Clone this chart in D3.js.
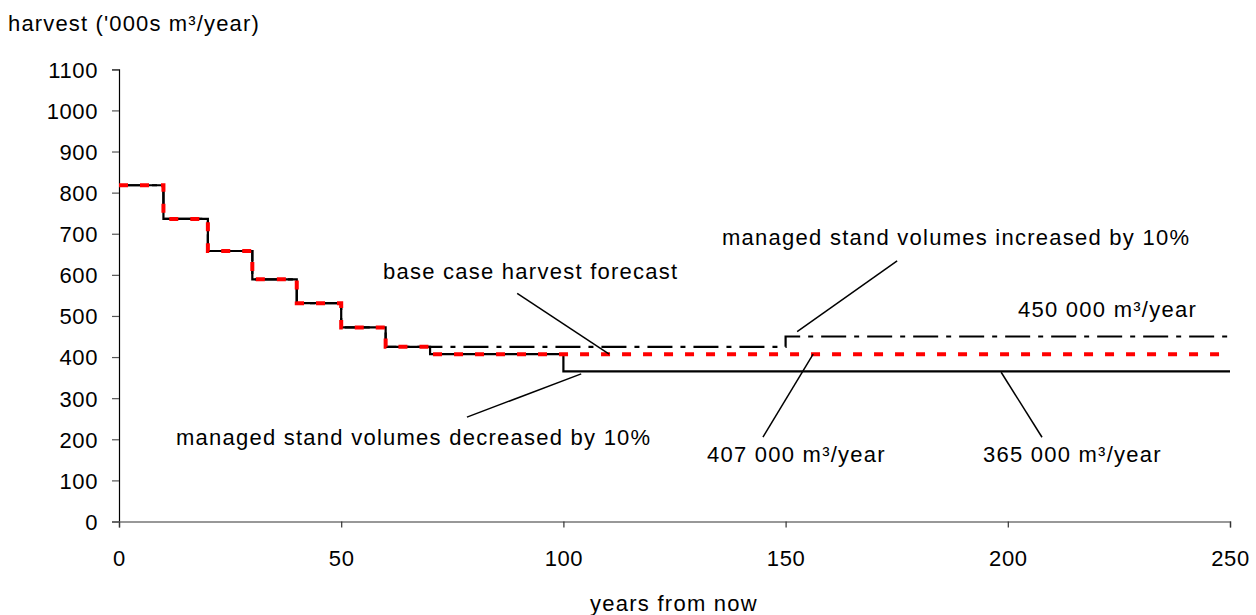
<!DOCTYPE html>
<html>
<head>
<meta charset="utf-8">
<script src="https://cdn.jsdelivr.net/npm/d3@7"></script>
<style>
  html, body { margin: 0; padding: 0; background: #fff; }
  svg { display: block; }
  text { font-family: "Liberation Sans", Arial, sans-serif; fill: #000; }
</style>
</head>
<body>
<svg id="chart" width="1256" height="615"></svg>
<script>
// ---- data ----
const stepYears      = [0, 10, 20, 30, 40, 50, 60, 70, 100, 150, 250];
const baseCase       = [818, 736, 658, 589, 531, 472, 425, 407, 407, 407, 407];
const increased10    = [818, 736, 658, 589, 531, 472, 425, 425, 425, 450, 450];
const decreased10    = [818, 736, 658, 589, 531, 472, 425, 407, 365, 365, 365];
const yTicks         = [0, 100, 200, 300, 400, 500, 600, 700, 800, 900, 1000, 1100];
const xTicks         = [0, 50, 100, 150, 200, 250];
const annotationText = [
  "base case harvest forecast",
  "managed stand volumes increased by 10%",
  "450 000 m³/year",
  "managed stand volumes decreased by 10%",
  "407 000 m³/year",
  "365 000 m³/year"
];
// label anchors (years, '000s m3) and leader lines in data units
const annotationAt   = [[59.4, 590], [135.7, 673], [202.3, 497], [12.8, 187], [132.3, 144], [194.4, 144]];
const leaderLines    = [
  [[89.6, 555], [110.3, 407]],
  [[175.1, 634], [152.6, 462]],
  [[104.0, 359], [78.3, 254]],
  [[156.2, 407], [144.9, 205]],
  [[198.5, 363], [207.7, 205]]
];

const svg = d3.select("#chart");
const x = d3.scaleLinear().domain([0, 250]).range([119, 1230]);
const y = d3.scaleLinear().domain([0, 1100]).range([521.5, 69.3]);

const FS = 22, LS = 1.25;

// axes
const yAxis = svg.append("g").attr("transform", `translate(${x(0)},0)`)
  .call(d3.axisLeft(y).tickValues(yTicks).tickSize(7).tickPadding(14).tickFormat(d3.format("d")));
yAxis.select(".domain").attr("stroke", "#000").attr("stroke-width", 1.2);
yAxis.selectAll(".tick line").attr("stroke", "#555").attr("stroke-width", 1.2);
yAxis.selectAll("text").attr("font-size", FS).attr("letter-spacing", 0.6).attr("font-family", "Liberation Sans, Arial, sans-serif").attr("dy", "0.36em");

const xAxis = svg.append("g").attr("transform", `translate(0,${y(0)})`)
  .call(d3.axisBottom(x).tickValues(xTicks).tickSize(6).tickPadding(23).tickFormat(d3.format("d")));
xAxis.select(".domain").attr("stroke", "#777").attr("stroke-width", 1.5);
xAxis.selectAll(".tick line").attr("stroke", "#333").attr("stroke-width", 1.2);
xAxis.selectAll("text").attr("font-size", FS).attr("letter-spacing", 0.6).attr("font-family", "Liberation Sans, Arial, sans-serif");

// axis titles
svg.append("text").attr("x", 8).attr("y", 31).attr("font-size", FS).attr("letter-spacing", 1.15)
  .text("harvest ('000s m³/year)");
svg.append("text").attr("x", 674).attr("y", 611).attr("text-anchor", "middle").attr("font-size", FS).attr("letter-spacing", LS)
  .text("years from now");

// series
const line = d3.line().x(d => x(d[0])).y(d => y(d[1])).curve(d3.curveStepAfter);
const pts = vals => stepYears.map((yr, i) => [yr, vals[i]]);

svg.append("path").datum(pts(decreased10)).attr("d", line)
  .attr("fill", "none").attr("stroke", "#000").attr("stroke-width", 2.2);
svg.append("path").datum(pts(increased10)).attr("d", line)
  .attr("fill", "none").attr("stroke", "#000").attr("stroke-width", 2.2)
  .attr("stroke-dasharray", "25,8,5,8");
svg.append("path").datum(pts(baseCase)).attr("d", line)
  .attr("fill", "none").attr("stroke", "#ff0000").attr("stroke-width", 4)
  .attr("stroke-dasharray", "9,12");

// leader lines
svg.selectAll(".leader").data(leaderLines).enter().append("line")
  .attr("x1", d => x(d[0][0])).attr("y1", d => y(d[0][1]))
  .attr("x2", d => x(d[1][0])).attr("y2", d => y(d[1][1]))
  .attr("stroke", "#000").attr("stroke-width", 1.5);

// annotation labels
svg.selectAll(".ann").data(annotationText).enter().append("text")
  .attr("x", (d, i) => x(annotationAt[i][0]))
  .attr("y", (d, i) => y(annotationAt[i][1]))
  .attr("font-size", FS).attr("letter-spacing", LS)
  .text(d => d);
</script>
</body>
</html>
